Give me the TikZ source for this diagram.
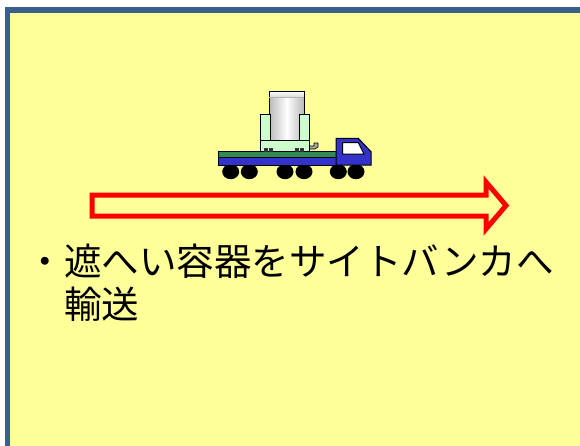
\documentclass[tikz,border=0pt]{standalone}
\usepackage{fontspec}
\newfontfamily\jpfont{Noto Sans CJK JP}
\definecolor{panel}{HTML}{FFFF99}
\definecolor{frameblue}{HTML}{3A5F8C}
\definecolor{truckblue}{HTML}{3333CC}
\definecolor{deckgreen}{HTML}{2E8B57}
\definecolor{cradle}{HTML}{CCFFCC}
\tikzset{
  outline/.style={draw=black, line width=1pt, line join=miter},
  label/.style={font=\jpfont\fontsize{37.5}{43}\selectfont, inner sep=0pt, text=black},
}
\begin{document}
\begin{tikzpicture}[x=1pt, y=-1pt]
  \useasboundingbox (0,0) rectangle (580,445);
  \fill[white] (0,0) rectangle (580,445);
  % panel with its frame, running off the right and bottom edges
  \begin{scope}
    \clip (0,0) rectangle (580,445);
    \draw[frameblue, line width=5.5pt, fill=panel] (7.5,10) rectangle (620,480);
  \end{scope}

  % wheels
  \foreach \cx in {230.7, 249.3, 285, 304, 338.3, 356}
    \fill (\cx,171.7) ellipse [x radius=8.5, y radius=7.5];

  % flatbed deck
  \fill[truckblue] (218.3,151.7) rectangle (336.7,165);
  \fill[deckgreen] (218.3,151.7) rectangle (336.7,157.3);
  \draw[outline] (218.3,157.3) -- (336.7,157.3);
  \draw[outline] (218.3,151.7) rectangle (336.7,165);

  % cab
  \draw[outline, fill=truckblue] (336,165) -- (336,138.3) -- (358.3,138.3)
       -- (371,151.7) -- (371,165) -- cycle;
  \draw[outline, fill=white] (342.7,142.7) -- (358.3,142.7) -- (364,154)
       -- (342.7,154) -- cycle;

  % coupling hook
  \draw[black, line width=0.6pt, fill=gray!70] (309.5,146) -- (314,146) -- (314,143)
       -- (318,143) -- (318,147) -- (315,149) -- (309.5,149) -- cycle;

  % cask cylinder
  \shade[left color=gray!55, right color=gray!55, middle color=white]
       (269.3,92) rectangle (304,140);
  \shade[top color=white, bottom color=gray!30] (269.3,91) rectangle (304,97);
  \draw[black, line width=0.8pt] (269.3,140) -- (269.3,91) -- (304,91) -- (304,140);
  \draw[gray!60, line width=0.6pt] (269.3,97) -- (304,97);

  % cradle
  \draw[outline, fill=cradle] (260.7,140) rectangle (309.3,151.7);
  \draw[outline, fill=cradle] (260.7,114) rectangle (270.7,140);
  \draw[outline, fill=cradle] (299,114) rectangle (309.3,140);
  \foreach \sx in {264, 269, 295, 300}
    \fill[black!80] (\sx,148) rectangle ++(4.3,3.7);

  % transfer arrow
  \draw[red, line width=5pt, line join=miter, miter limit=10]
    (92,195) -- (486,195) -- (486,182) -- (506,205.5) -- (486,229)
    -- (486,216) -- (92,216) -- cycle;

  % caption
  \node[label, anchor=base] (dot) at (45,275) {・};
  \node[label, anchor=base west] (line1) at (64,275) {遮へい容器をサイトバンカへ};
  \node[label, anchor=base west] (line2) at (64,318) {輸送};
\end{tikzpicture}
\end{document}
